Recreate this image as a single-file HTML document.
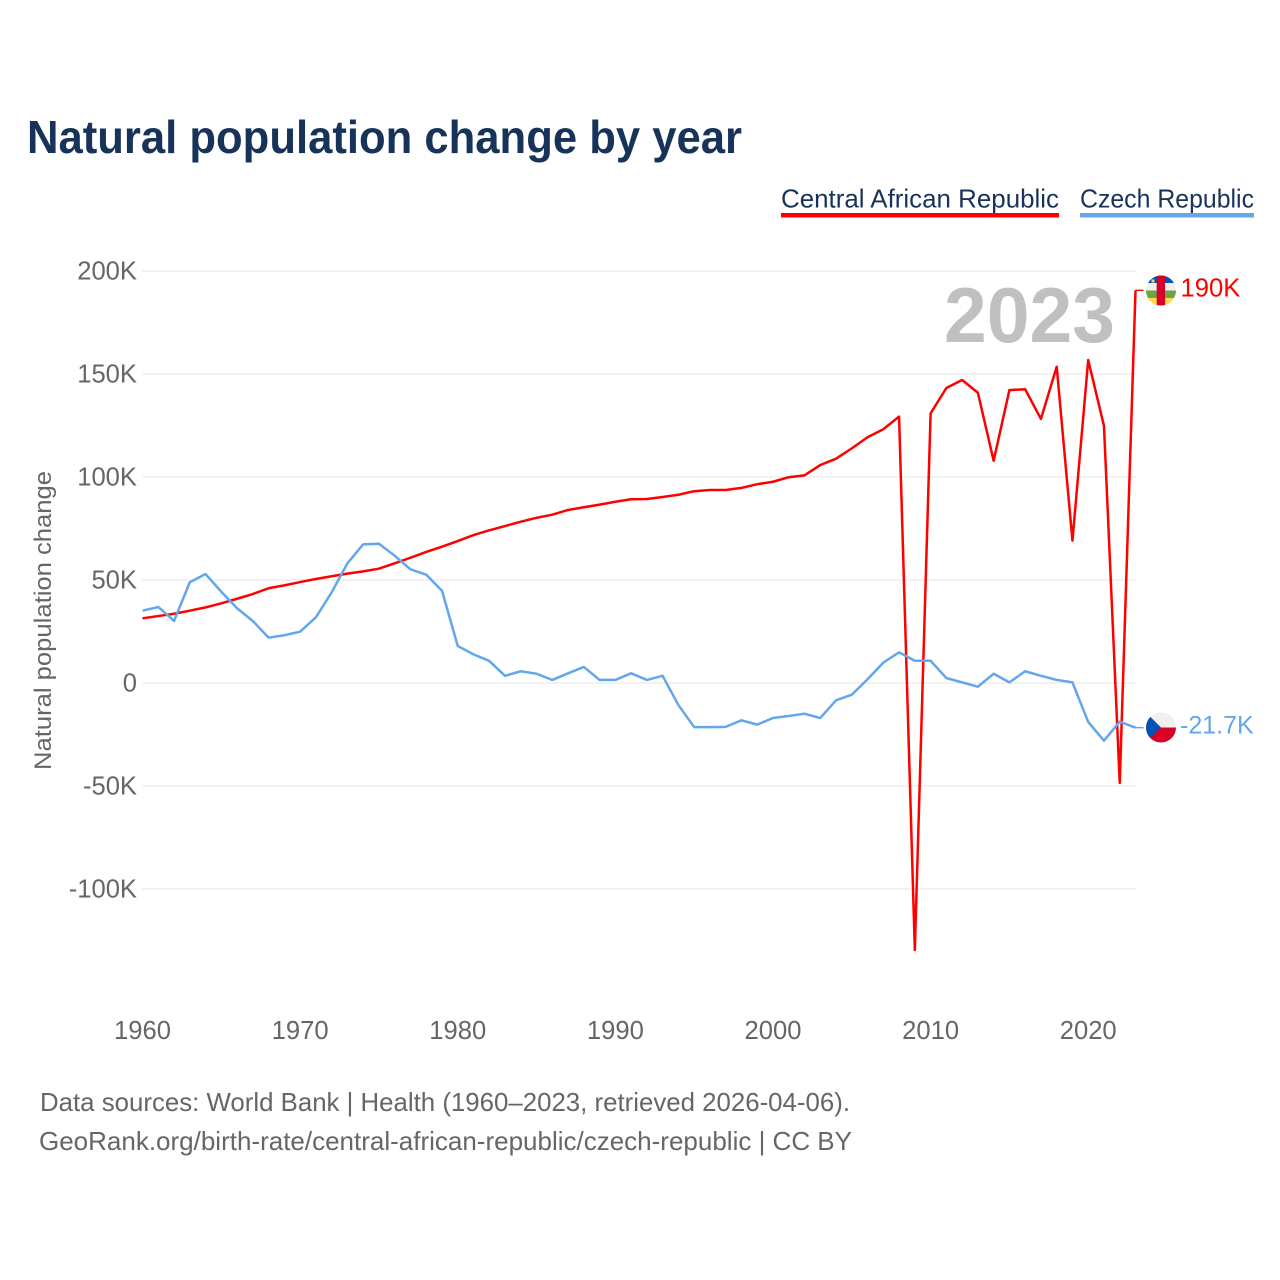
<!DOCTYPE html>
<html lang="en">
<head>
<meta charset="utf-8">
<title>Natural population change by year</title>
<style>
html,body{margin:0;padding:0;background:#fff;}
svg{display:block;font-family:"Liberation Sans",sans-serif;}
</style>
</head>
<body>
<svg id="chart" xmlns="http://www.w3.org/2000/svg" width="1280" height="1280" viewBox="0 0 1280 1280">
  <rect x="0" y="0" width="1280" height="1280" fill="#ffffff"/>
  <text x="27" y="153" font-size="46" font-weight="700" fill="#18335a" textLength="715" lengthAdjust="spacingAndGlyphs">Natural population change by year</text>

  <g>
    <text x="781" y="207.5" font-size="26" fill="#18335a" textLength="278" lengthAdjust="spacingAndGlyphs">Central African Republic</text>
    <rect x="781" y="213" width="278" height="4.5" fill="#ff0000"/>
  </g>
  <g>
    <text x="1080" y="207.5" font-size="26" fill="#18335a" textLength="174" lengthAdjust="spacingAndGlyphs">Czech Republic</text>
    <rect x="1080" y="213" width="174" height="4.5" fill="#63a6ec"/>
  </g>

  <g id="grid"></g>
  <g id="yticks"></g>
  <g id="xticks"></g>

  <text transform="translate(51 770) rotate(-90)" x="0" y="0" font-size="24.5" fill="#666666" textLength="299" lengthAdjust="spacingAndGlyphs">Natural population change</text>

  <text x="944" y="342" font-size="78" font-weight="700" fill="#c0c0c0" textLength="171" lengthAdjust="spacingAndGlyphs">2023</text>

  <g id="series"></g>

  <g>
    <defs>
      <clipPath id="clip-car"><circle cx="1161" cy="290.5" r="15"/></clipPath>
      <clipPath id="clip-cz"><circle cx="1161" cy="727.5" r="15"/></clipPath>
    </defs>
    <g clip-path="url(#clip-car)">
      <rect x="1146" y="275" width="30" height="8" fill="#0052b4"/>
      <rect x="1146" y="283" width="30" height="7.5" fill="#f0f0f0"/>
      <rect x="1146" y="290.5" width="30" height="7.5" fill="#6da544"/>
      <rect x="1146" y="298" width="30" height="8" fill="#ffda44"/>
      <rect x="1156.7" y="275" width="8.3" height="31" fill="#d80027"/>
      <rect x="1151.5" y="279.5" width="3" height="3" fill="#ffda44"/>
    </g>
  </g>
  <g>
    <g clip-path="url(#clip-cz)">
      <rect x="1146" y="712.5" width="30" height="15" fill="#f0f0f0"/>
      <rect x="1146" y="727.5" width="30" height="15" fill="#d80027"/>
      <polygon points="1146,712.5 1161,727.5 1146,742.5" fill="#0052b4"/>
    </g>
  </g>

  <text id="label-car" x="1180.5" y="296.5" font-size="25.6" fill="#ff0000"></text>
  <text id="label-cz" x="1180" y="733.5" font-size="25" fill="#63a6ec"></text>

  <text x="40" y="1111" font-size="26" fill="#666666" textLength="810" lengthAdjust="spacingAndGlyphs">Data sources: World Bank | Health (1960–2023, retrieved 2026-04-06).</text>
  <text x="39" y="1150" font-size="26" fill="#666666" textLength="813" lengthAdjust="spacingAndGlyphs">GeoRank.org/birth-rate/central-african-republic/czech-republic | CC BY</text>
</svg>

<script>
const firstYear = 1960;
const lastYear = 2023;
const yTickValues = [200, 150, 100, 50, 0, -50, -100];
const yTickLabels = ["200K", "150K", "100K", "50K", "0", "-50K", "-100K"];
const xTickValues = [1960, 1970, 1980, 1990, 2000, 2010, 2020];
const xTickLabels = ["1960", "1970", "1980", "1990", "2000", "2010", "2020"];

const carValues = [
  31.4, 32.5, 33.6, 35.1, 36.7, 38.7, 40.9, 43.2, 46.0, 47.4,
  49.0, 50.5, 51.8, 53.1, 54.2, 55.5, 58.1, 60.8, 63.6, 66.2,
  68.9, 71.8, 74.1, 76.2, 78.3, 80.2, 81.7, 84.0, 85.3, 86.6,
  88.0, 89.2, 89.3, 90.3, 91.4, 93.1, 93.7, 93.7, 94.7, 96.5,
  97.7, 99.9, 100.8, 105.8, 108.9, 113.9, 119.3, 123.2, 129.3, -129.6,
  130.9, 143.2, 147.1, 140.9, 107.9, 142.2, 142.6, 128.2, 153.5, 69.1,
  156.8, 124.8, -48.5, 190.6
];
const czValues = [
  35.1, 36.9, 30.1, 48.9, 52.9, 44.3, 36.3, 30.1, 22.0, 23.2,
  24.9, 31.9, 44.0, 58.1, 67.3, 67.6, 61.8, 55.2, 52.6, 44.8,
  18.0, 13.9, 10.7, 3.5, 5.7, 4.5, 1.5, 4.7, 7.8, 1.5,
  1.5, 4.7, 1.5, 3.5, -10.7, -21.4, -21.4, -21.3, -18.1, -20.2,
  -17.0, -16.0, -14.9, -17.0, -8.4, -5.7, 1.8, 9.9, 14.9, 10.8,
  10.8, 2.4, 0.3, -1.8, 4.5, 0.3, 5.7, 3.5, 1.5, 0.3,
  -18.9, -28.0, -18.8, -21.7
];
const carEndLabel = "190K";
const czEndLabel = "-21.7K";

const SVG_NS = "http://www.w3.org/2000/svg";
function xScale(year) { return 142.5 + (year - firstYear) * (1135.5 - 142.5) / (lastYear - firstYear); }
function yScale(value) { return 683 - value * 2.06; }

const grid = document.getElementById("grid");
const yticks = document.getElementById("yticks");
const xticks = document.getElementById("xticks");
const series = document.getElementById("series");

yTickValues.forEach(function (v, i) {
  const line = document.createElementNS(SVG_NS, "line");
  
  
  line.setAttribute("x1", xScale(firstYear));
  line.setAttribute("x2", xScale(lastYear));
  line.setAttribute("y1", yScale(v));
  line.setAttribute("y2", yScale(v));
  line.setAttribute("stroke", "#eeeeee");
  line.setAttribute("stroke-width", "1.5");
  grid.appendChild(line);

  const label = document.createElementNS(SVG_NS, "text");
  
  
  label.setAttribute("x", 137);
  label.setAttribute("y", yScale(v) + 8.3);
  label.setAttribute("text-anchor", "end");
  label.setAttribute("font-size", "25.6");
  label.setAttribute("fill", "#666666");
  label.textContent = yTickLabels[i];
  yticks.appendChild(label);
});

xTickValues.forEach(function (yr, i) {
  const label = document.createElementNS(SVG_NS, "text");
  
  
  label.setAttribute("x", xScale(yr));
  label.setAttribute("y", 1039);
  label.setAttribute("text-anchor", "middle");
  label.setAttribute("font-size", "25.6");
  label.setAttribute("fill", "#666666");
  label.textContent = xTickLabels[i];
  xticks.appendChild(label);
});

function pointsFor(values) {
  return values.map(function (v, i) {
    return xScale(firstYear + i).toFixed(2) + "," + yScale(v).toFixed(2);
  }).join(" ");
}

const carLine = document.createElementNS(SVG_NS, "polyline");


carLine.setAttribute("points", pointsFor(carValues));
carLine.setAttribute("fill", "none");
carLine.setAttribute("stroke", "#ff0000");
carLine.setAttribute("stroke-width", "2.5");
carLine.setAttribute("stroke-linejoin", "round");
series.appendChild(carLine);

const czLine = document.createElementNS(SVG_NS, "polyline");


czLine.setAttribute("points", pointsFor(czValues));
czLine.setAttribute("fill", "none");
czLine.setAttribute("stroke", "#63a6ec");
czLine.setAttribute("stroke-width", "2.5");
czLine.setAttribute("stroke-linejoin", "round");
series.appendChild(czLine);

const carLeader = document.createElementNS(SVG_NS, "line");


carLeader.setAttribute("x1", xScale(lastYear));
carLeader.setAttribute("x2", xScale(lastYear) + 8);
carLeader.setAttribute("y1", yScale(carValues[carValues.length - 1]));
carLeader.setAttribute("y2", yScale(carValues[carValues.length - 1]));
carLeader.setAttribute("stroke", "#ff0000");
carLeader.setAttribute("stroke-width", "1.4");
series.appendChild(carLeader);

const czLeader = document.createElementNS(SVG_NS, "line");


czLeader.setAttribute("x1", xScale(lastYear));
czLeader.setAttribute("x2", xScale(lastYear) + 8);
czLeader.setAttribute("y1", yScale(czValues[czValues.length - 1]));
czLeader.setAttribute("y2", yScale(czValues[czValues.length - 1]));
czLeader.setAttribute("stroke", "#63a6ec");
czLeader.setAttribute("stroke-width", "1.4");
series.appendChild(czLeader);

document.getElementById("label-car").textContent = carEndLabel;
document.getElementById("label-cz").textContent = czEndLabel;
</script>
</body>
</html>
